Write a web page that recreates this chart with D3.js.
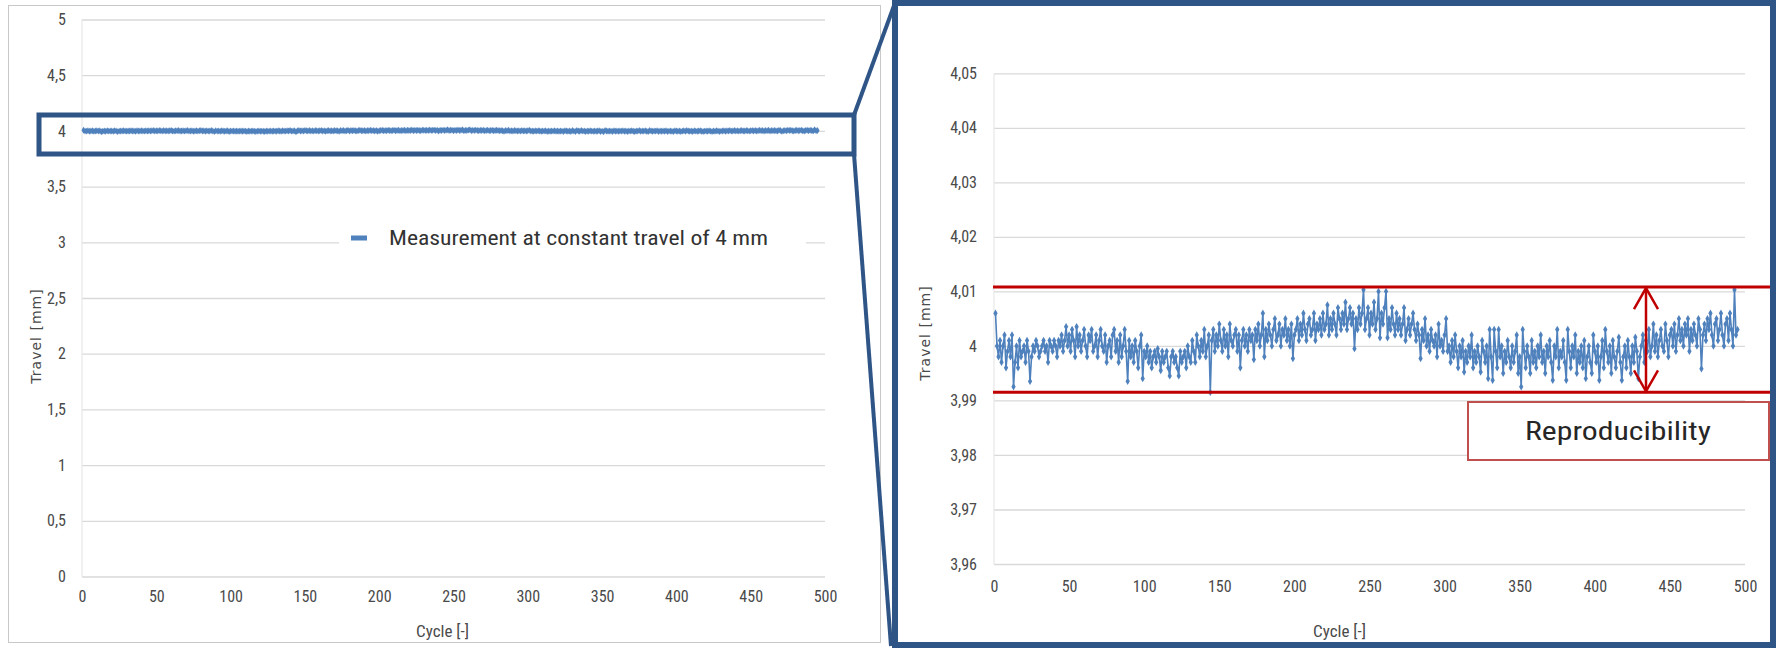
<!DOCTYPE html>
<html>
<head>
<meta charset="utf-8">
<script src="https://cdn.jsdelivr.net/npm/d3@7/dist/d3.min.js"></script>
<style>
    body { margin: 0; background: #fff; }
    svg { display: block; }
    .lbl { font-family: "Liberation Sans Narrow", "Roboto Condensed", "Liberation Sans", sans-serif; fill: #4a4a4a; }
    .ytitle { font-family: "DejaVu Sans", sans-serif; fill: #4a4a4a; letter-spacing: 1px; }
</style>
</head>
<body>
<svg id="chart" width="1777" height="648"></svg>
<script>
const nominalTravel = 4;
const travelOffsetUm = [
    6, 0, -2, 1, -3, 0, 2, -4, -1, 1, -2, 2, -7.5, -3, 0, -4, 1, -2, -1, 0,
    -3, 1, -1, -6.5, -2, 0, -1, 1, 0, -2, -1, 0, 1, -1, 0, -3, 1, 0, -1, 1,
    0, -2, 1, 0, 2, -1, 1, 3.5, 0, 2, -1, 3, 1, -2, 3.5, 0, 2, -1, 1, 3,
    0, -2, 2, 1, 3, -1, 0, 2, -2, 1, 3, 0, -1, 2, -3, 0, 1, -2, 2, 3,
    -1, 1, -3, 2, -2, 0, 3, -1, -6.5, 1, -2, 0, -3, 1, -1, -4, 0, 2, -6, -1,
    -2, 0, -3, -1, -4, -2, -1, -3, -0.5, -2, -4.5, -1, -3, -2, -1, -4, -5.5, -2, -1, -3,
    -2, -4, -5.5, -1, -3, -2, -1, -4, 0, -2, -3, 1, -1, -3, 2, 0, -2, 1, -1, 3,
    -2, 0, 2, -8.5, 1, 3, -1, 2, 0, 4, 1, -1, 3, 0, 2, -2, 4, 1, 0, 2,
    3, -1, 2, -4, 1, 3, 0, 2, -1, 3, 1, 2, -2.5, 3, 1, 4, 0, 2, 6, -2,
    3, 1, 4, 2, 0, 3, 5, 1, 2, 4, 0, 3, 2, 5, 1, 3, 0, 4, -2.3, 2,
    3, 5, 1, 4, 2, 6, 3, 1, 4, 5, 2, 3, 6, 1, 4, 3, 5, 2, 6, 3,
    4, 7.5, 2, 5, 3, 6, 4, 2, 7, 5, 3, 6, 4, 8, 3, 5, 7, 4, 6, -0.5,
    5, 3, 7, 4, 6, 10.3, 3, 5, 7, 2, 6, 4, 8, 3, 5, 10, 1.5, 6, 4, 7,
    10, 1.5, 5, 3, 7, 4, 2, 6, 3, 5, 2, 4, 7, 1, 3, 5, 2, 4, 6, 3,
    1, 4, 2, -2.3, 3, 1, 5, 0, 2, -1, 3, 1, 0, 2, -2, 4, 0, 1, -1, 2,
    5, -1, 0, -3, 1, -2, 2, -1, -4, 0, -2, 1, -4.8, -1, -3, 0, -2, 2, -4, -1,
    -3, 0, -2, -4.8, 1, -1, -3, 0, -6, 3, -2, -6.3, 3, -1, -4, 3, -2, 0, -5, -1,
    -3, 1, -2, -4, 0, -3, -1, 2, -5, -2, -7.5, 3, -1, -4, 0, -2, -5, 1, -3, -1,
    -4, 0, -2, 2, -3, -1, -5, 0, -2, 1, -3, -6.3, 0, -2, 3, -4, -1, -2, 1, -3,
    -6.3, 3, -1, -4, 0, -2, 2, -5, -1, -3, 0, -4, 1, -6, -2, 0, -3, -5, 2, -1,
    -3, 0, -6.3, -2, 1, -4, 3, -1, -3, 0, -5, 1, -2, -4, -1, 1.6, -3, -6.3, -2, 0,
    -4, 1, -2, -5, 0, -3, 1.6, -1, -6, -2, 0, 2, -3, 1, -1, 3, -2, 0, 4, -1,
    2, -2, 1, 3, 0, -1, 4, 1, -2, 2, 3, 0, 4, -1, 2, 5, 1, 3, 0, 4,
    2, 5, -1, 3, 1, 4, 2, 0, 5, 3, -4.2, 2, 4, 1, 5, 3, 6, 2, 0, 4,
    5, 1, 3, 6, 2, 0, 4, 5, 1, 6, 3, 0, 10.3, 2, 3
];
const cycles = travelOffsetUm.map((d, i) => i + 1);

const xTicks = [0, 50, 100, 150, 200, 250, 300, 350, 400, 450, 500];
const leftYTicks = [0, 0.5, 1, 1.5, 2, 2.5, 3, 3.5, 4, 4.5, 5];
const rightYTicks = [3.96, 3.97, 3.98, 3.99, 4, 4.01, 4.02, 4.03, 4.04, 4.05];
const reproLimits = [3.9915, 4.0108];

const seriesName = 'Measurement at constant travel of 4 mm';
const xTitle = 'Cycle [-]';
const yTitle = 'Travel [mm]';
const reproLabel = 'Reproducibility';

const blue = '#4f81bd';
const frameBlue = '#2f5587';
const red = '#c00000';

const data = cycles.map((c, i) => ({ cycle: c, travel: nominalTravel + travelOffsetUm[i] / 1000 }));

const locale = d3.formatLocale({ decimal: ',', thousands: '.', grouping: [3], currency: ['', ''] });

const svg = d3.select('#chart');

function drawPanel(opts) {
    const g = svg.append('g');
    const x = d3.scaleLinear().domain([0, 500]).range([opts.left, opts.right]);
    const y = d3.scaleLinear().domain(opts.yDomain).range([opts.bottom, opts.top]);

    // gridlines + y labels
    const yAxis = g.append('g')
        .attr('transform', `translate(${opts.left},0)`)
        .call(d3.axisLeft(y).tickValues(opts.yTicks)
            .tickSize(-(opts.right - opts.left))
            .tickPadding(opts.left - opts.yLabelEnd)
            .tickFormat(locale.format(opts.yFormat)));
    yAxis.select('.domain').remove();
    yAxis.selectAll('line').attr('stroke', '#d9d9d9').attr('stroke-width', 1.3);
    yAxis.selectAll('text').attr('class', 'lbl').style('font-size', '16px');

    // left axis line
    g.append('line')
        .attr('x1', opts.left).attr('x2', opts.left)
        .attr('y1', opts.top).attr('y2', opts.bottom)
        .attr('stroke', '#e3e3e3').attr('stroke-width', 1);

    // x labels
    const xAxis = g.append('g')
        .attr('transform', `translate(0,${opts.bottom})`)
        .call(d3.axisBottom(x).tickValues(xTicks).tickSize(0).tickPadding(opts.xLabelGap).tickFormat(d3.format('d')));
    xAxis.select('.domain').remove();
    xAxis.selectAll('text').attr('class', 'lbl').style('font-size', '16px');

    g.append('text')
        .attr('class', 'lbl')
        .attr('x', (opts.left + opts.right) / 2 + opts.xTitleShift)
        .attr('y', 637)
        .attr('text-anchor', 'middle')
        .style('font-size', '17px')
        .text(xTitle);

    g.append('text')
        .attr('class', 'ytitle')
        .attr('transform', `translate(${opts.yTitleX},${opts.yTitleY}) rotate(-90)`)
        .attr('text-anchor', 'middle')
        .style('font-size', '14px')
        .text(yTitle);

    // series
    const line = d3.line().x(d => x(d.cycle)).y(d => y(d.travel));
    g.append('path')
        .datum(data)
        .attr('fill', 'none')
        .attr('stroke', blue)
        .attr('stroke-width', opts.lineWidth)
        .attr('d', line);

    g.append('g')
        .selectAll('path')
        .data(data)
        .join('path')
        .attr('transform', d => `translate(${x(d.cycle)},${y(d.travel)})`)
        .attr('d', d3.symbol(d3.symbolDiamond, opts.markerSize))
        .attr('fill', blue);

    return { x, y };
}

// Left: full-range chart
svg.append('rect')
    .attr('x', 8.5).attr('y', 5.5).attr('width', 872).attr('height', 637)
    .attr('fill', '#fff').attr('stroke', '#c8c8c8').attr('stroke-width', 1);

const left = drawPanel({
    left: 82, right: 825, top: 19.5, bottom: 576.5,
    yDomain: [0, 5], yTicks: leftYTicks, yFormat: '.1~f', yLabelEnd: 66,
    xLabelGap: 14, xTitleShift: -11, yTitleX: 41, yTitleY: 336,
    lineWidth: 3, markerSize: 14
});

// legend
svg.append('rect')
    .attr('x', 339).attr('y', 224).attr('width', 467).attr('height', 28)
    .attr('fill', '#fff');
svg.append('rect')
    .attr('x', 351).attr('y', 235.5).attr('width', 16).attr('height', 5)
    .attr('fill', blue);
svg.append('text')
    .attr('class', 'lbl')
    .attr('x', 389).attr('y', 244.5)
    .attr('textLength', 379).attr('lengthAdjust', 'spacingAndGlyphs')
    .style('font-size', '20px').style('fill', '#333')
    .text(seriesName);

// Right: zoomed chart
const right = drawPanel({
    left: 994, right: 1745, top: 73.3, bottom: 564,
    yDomain: [3.96, 4.05], yTicks: rightYTicks, yFormat: '.2~f', yLabelEnd: 977,
    xLabelGap: 17, xTitleShift: -30, yTitleX: 930, yTitleY: 333,
    lineWidth: 1.6, markerSize: 16
});

// reproducibility band
reproLimits.forEach(v => {
    svg.append('line')
        .attr('x1', 993).attr('x2', 1771)
        .attr('y1', right.y(v)).attr('y2', right.y(v))
        .attr('stroke', red).attr('stroke-width', 3);
});

const arrowX = 1646;
const yTop = right.y(reproLimits[1]) + 1;
const yBot = right.y(reproLimits[0]) - 1;
const arrow = svg.append('g').attr('stroke', red).attr('stroke-width', 2.5).attr('fill', 'none');
arrow.append('line').attr('x1', arrowX).attr('x2', arrowX).attr('y1', yTop).attr('y2', yBot);
arrow.append('polyline').attr('points', `${arrowX - 12},${yTop + 21} ${arrowX},${yTop} ${arrowX + 12},${yTop + 21}`);
arrow.append('polyline').attr('points', `${arrowX - 12},${yBot - 21} ${arrowX},${yBot} ${arrowX + 12},${yBot - 21}`);

svg.append('rect')
    .attr('x', 1468).attr('y', 402).attr('width', 301).attr('height', 58)
    .attr('fill', '#fff').attr('stroke', '#c0504d').attr('stroke-width', 2);
svg.append('text')
    .attr('class', 'lbl')
    .attr('x', 1618).attr('y', 440)
    .attr('text-anchor', 'middle')
    .attr('textLength', 186).attr('lengthAdjust', 'spacingAndGlyphs')
    .style('font-size', '25px').style('fill', '#262626')
    .text(reproLabel);

// zoom highlight and connectors
const callout = svg.append('g').attr('stroke', frameBlue).attr('fill', 'none');
callout.append('rect')
    .attr('x', 39).attr('y', 115).attr('width', 815).attr('height', 39)
    .attr('stroke-width', 5);
callout.append('line').attr('x1', 854).attr('y1', 115).attr('x2', 895).attr('y2', 3).attr('stroke-width', 4);
callout.append('line').attr('x1', 854).attr('y1', 154).attr('x2', 891).attr('y2', 646).attr('stroke-width', 4);
callout.append('rect')
    .attr('x', 895).attr('y', 3).attr('width', 878).attr('height', 642)
    .attr('stroke-width', 6);
</script>
</body>
</html>
